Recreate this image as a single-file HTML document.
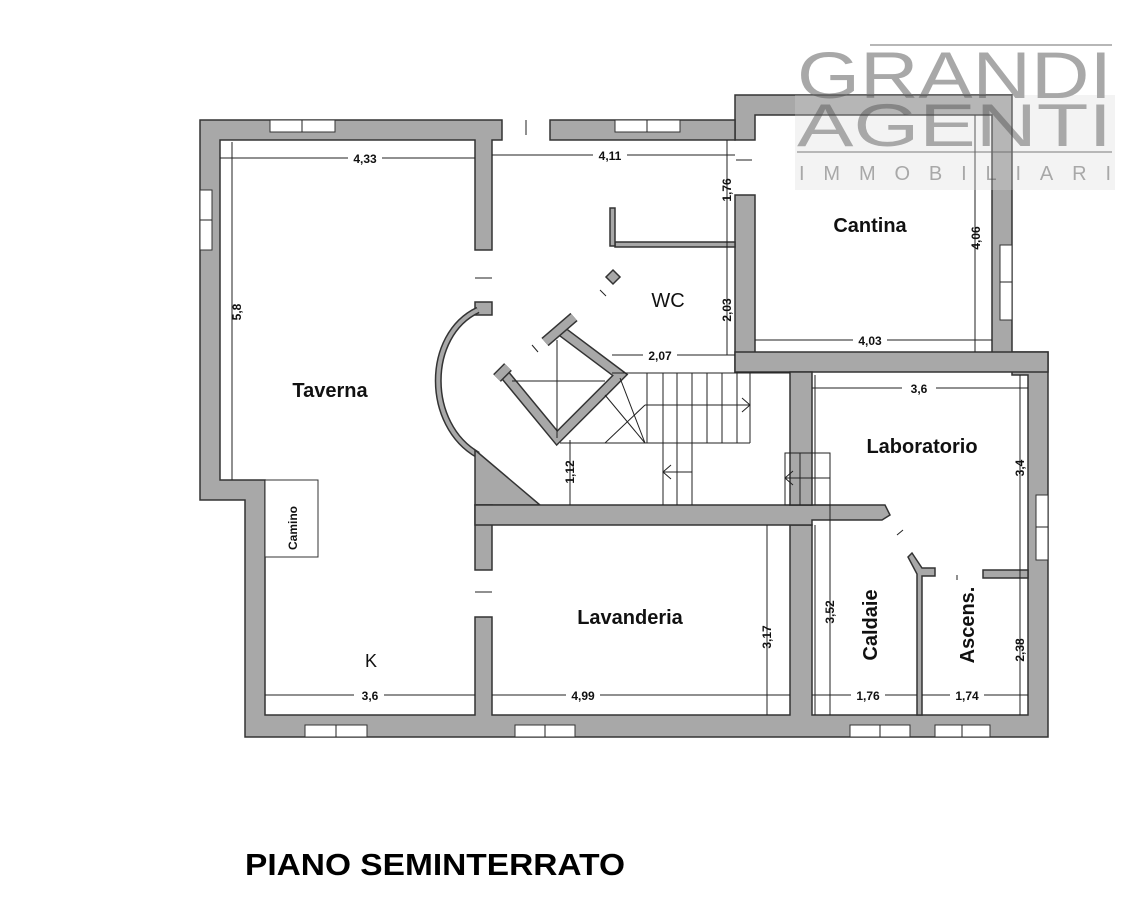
<!DOCTYPE html>
<html><head><meta charset="utf-8"><style>
html,body{margin:0;padding:0;background:#fff}
svg{display:block}
.w{fill:#a8a8a8;stroke:#333;stroke-width:1.5}
.d{stroke:#222;stroke-width:1;fill:none}
.t{font-family:"Liberation Sans",sans-serif;font-weight:bold;font-size:12px;fill:#111}
.r{font-family:"Liberation Sans",sans-serif;font-weight:bold;font-size:20px;fill:#111}
.win{fill:#fff;stroke:#333;stroke-width:1}
</style></head><body>
<svg width="1144" height="908" viewBox="0 0 1144 908" xmlns="http://www.w3.org/2000/svg">
<path class="w" d="M200 120 H502 V140 H492 V250 H475 V140 H220 V480 H265 V715 H475 V617 H492 V715 H790 V525 H812 V715 H1028 V375 H1012 V355 H992 V115 H755 V140 H735 V95 H1012 V352 H1048 V737 H245 V500 H200 Z"/>
<rect class="w" x="550" y="120" width="185" height="20"/>
<rect class="win" x="270" y="120" width="65" height="12"/><line class="d" x1="302" y1="120" x2="302" y2="132"/>
<rect class="win" x="615" y="120" width="65" height="12"/><line class="d" x1="647" y1="120" x2="647" y2="132"/>
<rect class="win" x="200" y="190" width="12" height="60"/><line class="d" x1="200" y1="220" x2="212" y2="220"/>
<rect class="win" x="1000" y="245" width="12" height="75"/><line class="d" x1="1000" y1="282" x2="1012" y2="282"/>
<rect class="win" x="1036" y="495" width="12" height="65"/><line class="d" x1="1036" y1="527" x2="1048" y2="527"/>
<rect class="win" x="305" y="725" width="62" height="12"/><line class="d" x1="336" y1="725" x2="336" y2="737"/>
<rect class="win" x="515" y="725" width="60" height="12"/><line class="d" x1="545" y1="725" x2="545" y2="737"/>
<rect class="win" x="850" y="725" width="60" height="12"/><line class="d" x1="880" y1="725" x2="880" y2="737"/>
<rect class="win" x="935" y="725" width="55" height="12"/><line class="d" x1="962" y1="725" x2="962" y2="737"/>
<line class="d" x1="526" y1="120" x2="526" y2="135" stroke-width="2"/>
<line class="d" x1="736" y1="160" x2="752" y2="160"/>
<rect class="w" x="475" y="302" width="17" height="13"/>
<path d="M478 310 C425 335 425 425 478 455" fill="none" stroke="#333" stroke-width="7"/>
<path d="M478 310 C425 335 425 425 478 455" fill="none" stroke="#a8a8a8" stroke-width="4"/>
<path class="w" d="M475 450 L540 505 H475 Z"/>
<rect class="w" x="475" y="505" width="17" height="65"/>
<line class="d" x1="475" y1="278" x2="492" y2="278"/>
<line class="d" x1="475" y1="592" x2="492" y2="592"/>
<path class="w" d="M475 505 H885 L890 515 L882 520 H812 V525 H492 V525 H475 Z"/>
<rect class="w" x="735" y="195" width="20" height="177"/>
<rect class="w" x="735" y="352" width="313" height="20"/>
<rect class="w" x="790" y="372" width="22" height="133"/>
<line class="d" x1="815" y1="375" x2="815" y2="505"/>
<line class="d" x1="815" y1="525" x2="815" y2="715"/>
<rect class="w" x="615" y="242" width="120" height="5"/>
<rect class="w" x="610" y="208" width="5" height="38"/>
<path class="w" d="M613 270 L620 277 L613 284 L606 277 Z"/>
<line class="d" x1="600" y1="290" x2="606" y2="296"/>
<line class="d" x1="532" y1="345" x2="538" y2="352"/>
<polyline points="505,375 557,438 620,375 560,330" fill="none" stroke="#333" stroke-width="11"/>
<polyline points="505,375 557,438 620,375 560,330" fill="none" stroke="#a8a8a8" stroke-width="8"/>
<line x1="545" y1="342" x2="574" y2="317" stroke="#333" stroke-width="11"/>
<line x1="545" y1="342" x2="574" y2="317" stroke="#a8a8a8" stroke-width="8"/>
<line x1="497" y1="378" x2="508" y2="367" stroke="#333" stroke-width="11"/>
<line x1="497" y1="378" x2="508" y2="367" stroke="#a8a8a8" stroke-width="8"/>
<line class="d" x1="557" y1="340" x2="557" y2="438"/>
<line class="d" x1="512" y1="381" x2="605" y2="381"/>
<g class="d">
<line x1="612" y1="373" x2="790" y2="373"/>
<line x1="560" y1="443" x2="750" y2="443"/>
<line x1="645" y1="405" x2="750" y2="405"/>
<line x1="620" y1="378" x2="645" y2="443"/><line x1="605" y1="395" x2="645" y2="443"/><line x1="645" y1="405" x2="605" y2="443"/>
<line x1="647" y1="373" x2="647" y2="443"/><line x1="663" y1="373" x2="663" y2="505"/><line x1="677" y1="373" x2="677" y2="505"/>
<line x1="692" y1="373" x2="692" y2="505"/><line x1="707" y1="373" x2="707" y2="443"/><line x1="722" y1="373" x2="722" y2="443"/>
<line x1="737" y1="373" x2="737" y2="443"/><line x1="750" y1="373" x2="750" y2="443"/>
<polyline points="742,398 750,405 742,412"/>
<line x1="663" y1="472" x2="692" y2="472"/><polyline points="671,465 663,472 671,479"/>
<rect x="785" y="453" width="45" height="52"/>
<line x1="800" y1="453" x2="800" y2="505"/><line x1="815" y1="453" x2="815" y2="505"/>
<line x1="785" y1="478" x2="830" y2="478"/><polyline points="793,471 785,478 793,485"/>
</g>
<path class="w" d="M908 557 L912 553 L922 568 H935 V576 H922 V715 H917 V574 Z"/>
<rect class="w" x="983" y="570" width="45" height="8"/>
<line class="d" x1="897" y1="535" x2="903" y2="530"/>
<line class="d" x1="957" y1="575" x2="957" y2="580"/>
<rect x="265" y="480" width="53" height="77" fill="#fff" stroke="#333"/>
<text transform="translate(297,550) rotate(-90)" class="t" font-size="13">Camino</text>
<g class="d">
<line x1="220" y1="158" x2="475" y2="158"/><line x1="232" y1="142" x2="232" y2="480"/>
<line x1="492" y1="155" x2="735" y2="155"/><line x1="727" y1="140" x2="727" y2="355"/>
<line x1="612" y1="355" x2="735" y2="355"/>
<line x1="755" y1="340" x2="992" y2="340"/><line x1="975" y1="115" x2="975" y2="352"/>
<line x1="812" y1="388" x2="1028" y2="388"/><line x1="1020" y1="375" x2="1020" y2="715"/>
<line x1="265" y1="695" x2="475" y2="695"/><line x1="492" y1="695" x2="790" y2="695"/>
<line x1="767" y1="525" x2="767" y2="715"/><line x1="570" y1="440" x2="570" y2="505"/>
<line x1="812" y1="695" x2="917" y2="695"/><line x1="922" y1="695" x2="1028" y2="695"/>
<line x1="830" y1="505" x2="830" y2="715"/>
</g>
<g class="t" text-anchor="middle">
<rect x="348" y="152" width="34" height="12" fill="#fff"/><text x="365" y="163">4,33</text>
<rect x="593" y="149" width="34" height="12" fill="#fff"/><text x="610" y="160">4,11</text>
<rect x="643" y="349" width="34" height="12" fill="#fff"/><text x="660" y="360">2,07</text>
<rect x="853" y="334" width="34" height="12" fill="#fff"/><text x="870" y="345">4,03</text>
<rect x="902" y="382" width="34" height="12" fill="#fff"/><text x="919" y="393">3,6</text>
<rect x="354" y="689" width="30" height="12" fill="#fff"/><text x="370" y="700">3,6</text>
<rect x="566" y="689" width="34" height="12" fill="#fff"/><text x="583" y="700">4,99</text>
<rect x="851" y="689" width="34" height="12" fill="#fff"/><text x="868" y="700">1,76</text>
<rect x="950" y="689" width="34" height="12" fill="#fff"/><text x="967" y="700">1,74</text>
<text transform="translate(241,312) rotate(-90)">5,8</text>
<text transform="translate(731,190) rotate(-90)">1,76</text>
<text transform="translate(731,310) rotate(-90)">2,03</text>
<text transform="translate(980,238) rotate(-90)">4,06</text>
<text transform="translate(1024,468) rotate(-90)">3,4</text>
<text transform="translate(1024,650) rotate(-90)">2,38</text>
<text transform="translate(771,637) rotate(-90)">3,17</text>
<text transform="translate(834,612) rotate(-90)">3,52</text>
<text transform="translate(574,472) rotate(-90)">1,12</text>
</g>
<g class="r" text-anchor="middle">
<text x="330" y="397">Taverna</text>
<text x="668" y="307" font-weight="normal">WC</text>
<text x="870" y="232">Cantina</text>
<text x="922" y="453">Laboratorio</text>
<text x="630" y="624">Lavanderia</text>
<text x="371" y="667" font-weight="normal" font-size="18">K</text>
<text transform="translate(877,625) rotate(-90)">Caldaie</text>
<text transform="translate(974,625) rotate(-90)">Ascens.</text>
</g>
<g opacity="0.6">
<rect x="795" y="95" width="320" height="95" fill="#d8d8d8" opacity="0.5"/>
<line x1="870" y1="45" x2="1112" y2="45" stroke="#888" stroke-width="2"/>
<line x1="797" y1="152" x2="1112" y2="152" stroke="#888" stroke-width="2"/>
<text x="797" y="98" font-family="Liberation Sans,sans-serif" font-size="66" fill="#707070" textLength="315" lengthAdjust="spacingAndGlyphs">GRANDI</text>
<text x="797" y="146" font-family="Liberation Sans,sans-serif" font-size="60" fill="#707070" textLength="315" lengthAdjust="spacingAndGlyphs">AGENTI</text>
<text x="799" y="180" font-family="Liberation Sans,sans-serif" font-size="20" fill="#707070" textLength="312" lengthAdjust="spacing">IMMOBILIARI</text>
</g>
<text x="245" y="875" font-family="Liberation Sans,sans-serif" font-weight="bold" font-size="31" fill="#000" textLength="380" lengthAdjust="spacingAndGlyphs">PIANO SEMINTERRATO</text>
</svg>
</body></html>
